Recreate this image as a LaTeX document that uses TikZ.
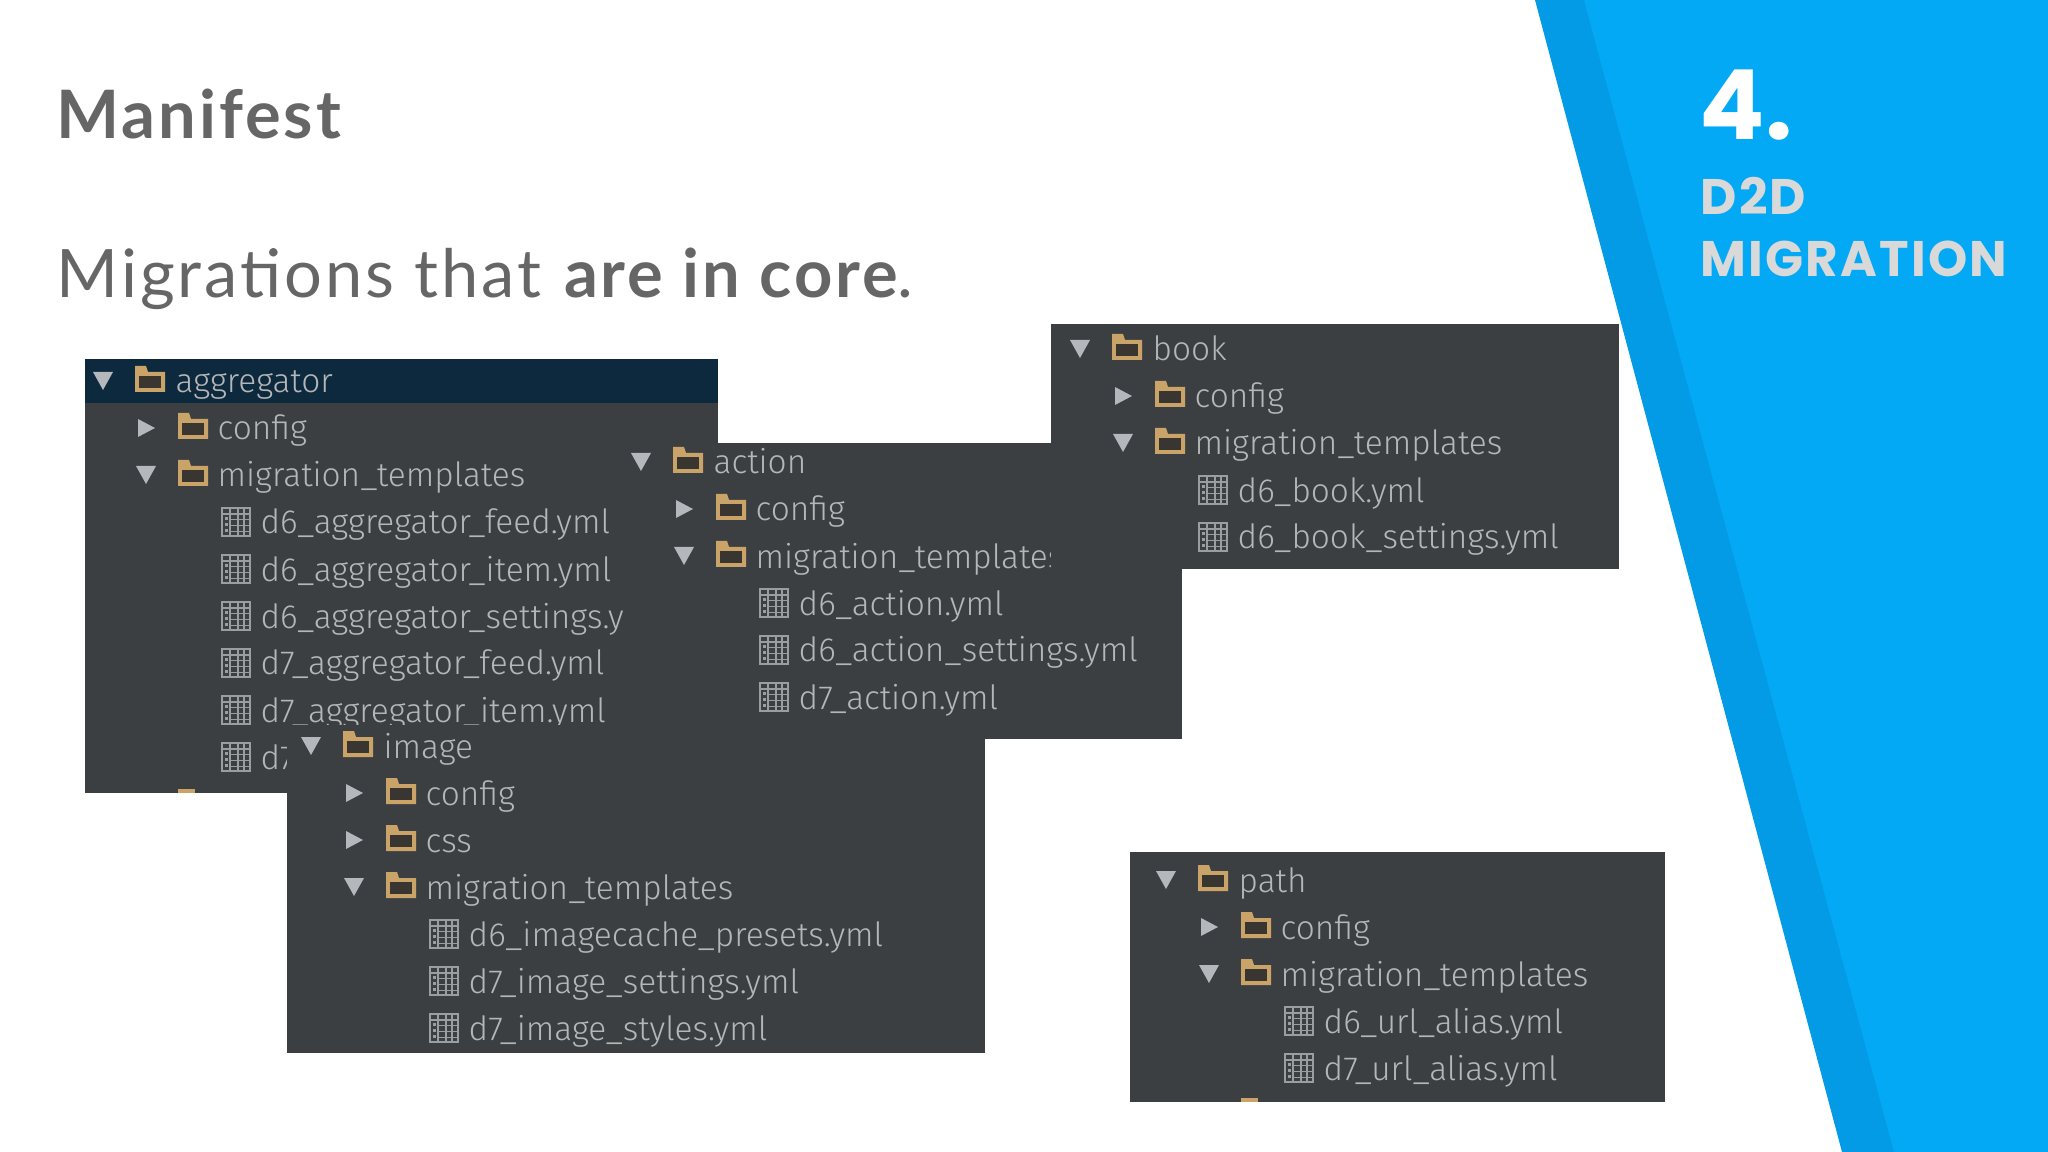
\documentclass[tikz,border=0pt]{standalone}
\usepackage{fontspec}
\setmainfont{Lato}[LetterSpace=4.4]
\newfontfamily\treefont{Fira Sans Light}
\newfontfamily\sidefont{Poppins}
\newfontfamily\sidewide{Poppins}[LetterSpace=4.4]
\usetikzlibrary{calc}

\definecolor{panelgrey}{HTML}{3C3F41}
\definecolor{headblue}{HTML}{0D293E}
\definecolor{treetext}{HTML}{B4B6B8}
\definecolor{foldergold}{HTML}{C9A367}
\definecolor{folderdark}{HTML}{393530}
\definecolor{arrowgrey}{HTML}{B4B7BC}
\definecolor{filegrey}{HTML}{999EA0}
\definecolor{bluelight}{HTML}{03A9F4}
\definecolor{bluedark}{HTML}{039BE5}
\definecolor{sidegrey}{HTML}{D9D9D9}
\definecolor{titlegrey}{HTML}{666666}

\tikzset{
  panel/.style={fill=panelgrey},
  treelabel/.style={anchor=base west,inner sep=0pt,text=treetext,
    font=\treefont\fontsize{9.5}{11}\selectfont},
  folder/.pic={
    \fill[foldergold] (-15,-15) -- (-15,11) -- (15,11) -- (15,-9) -- (-2,-9) -- (-4,-15) -- cycle;
    \fill[folderdark] (-11,-5) rectangle (11,7);
  },
  arrowdown/.pic={\fill[arrowgrey] (-10,-9) -- (10,-9) -- (0,9) -- cycle;},
  arrowright/.pic={\fill[arrowgrey] (-8,-9) -- (9,0) -- (-8,9) -- cycle;},
  gridfile/.pic={
    \draw[filegrey,line width=.35pt] (-14,-14) rectangle (14,14);
    \foreach \gx in {-6,2,8} \draw[filegrey,line width=.3pt] (\gx,-14) -- (\gx,14);
    \draw[filegrey,line width=.3pt] (-14,-8) -- (14,-8);
    \foreach \gy in {-3,3,9} {
      \draw[filegrey,line width=.25pt] (-6,\gy) -- (14,\gy);
      \fill[filegrey] (-11.5,\gy-2) rectangle (-8,\gy+1);
    }
  },
  rootrow/.pic={
    \pic at (18,0) {arrowdown};
    \pic at (65,0) {folder};
    \node[treelabel] (label) at (90,12) {#1};
  },
  closedrow/.pic={
    \pic at (61,0) {arrowright};
    \pic at (108,0) {folder};
    \node[treelabel] (label) at (132,12) {#1};
  },
  openrow/.pic={
    \pic at (61,0) {arrowdown};
    \pic at (108,0) {folder};
    \node[treelabel] (label) at (132,12) {#1};
  },
  filerow/.pic={
    \pic at (151,0) {gridfile};
    \node[treelabel] (label) at (175,12) {#1};
  }
}

\begin{document}
\begin{tikzpicture}[x=0.01cm,y=-0.01cm]
  \useasboundingbox (0,0) rectangle (2048,1152);

  % blue side
  \fill[bluedark] (1535,0) -- (2048,0) -- (2048,1152) -- (1842,1152) -- cycle;
  \fill[bluelight] (1584,0) -- (2048,0) -- (2048,1152) -- (1894,1152) -- cycle;
  \node[anchor=base west,inner sep=0pt,text=white,font=\sidefont\bfseries\fontsize{27.5}{30}\selectfont] (sectionnum) at (1699,140) {4.};
  \node[anchor=base west,inner sep=0pt,text=sidegrey,font=\sidewide\bfseries\fontsize{14.2}{15}\selectfont] (sectionone) at (1700,215) {D2D};
  \node[anchor=base west,inner sep=0pt,text=sidegrey,font=\sidewide\bfseries\fontsize{14.2}{15}\selectfont] (sectiontwo) at (1700,277) {MIGRATION};

  % titles
  \node[anchor=base west,inner sep=0pt,text=titlegrey,font=\bfseries\fontsize{19}{20}\selectfont] (title) at (56,139) {Manifest};
  \node[anchor=base west,inner sep=0pt,text=titlegrey,font=\fontsize{19}{20}\selectfont] (subtitle) at (56,298) {Migrations that \textbf{are in core}.};

  % aggregator
  \fill[panel] (85,359) rectangle (718,793);
  \fill[headblue] (85,359) rectangle (718,403);
  \pic (agg) at (85,381) {rootrow={aggregator}};
  \pic (aggcfg) at (85,428) {closedrow={config}};
  \pic (aggmig) at (85,475) {openrow={migration\_templates}};
  \foreach \rowy/\rowtext in {522/d6\_aggregator\_feed.yml,569/d6\_aggregator\_item.yml,
      616/d6\_aggregator\_settings.yml,663/d7\_aggregator\_feed.yml,
      710/d7\_aggregator\_item.yml,757/d7\_aggregator\_settings.yml}
    \pic (aggfile\rowy) at (85,\rowy) {filerow={\rowtext}};
  \fill[foldergold] (178,789) rectangle (195,793);

  % action
  \fill[panel] (624,443) rectangle (1182,739);
  \pic (act) at (623,462) {rootrow={action}};
  \pic (actcfg) at (623,509) {closedrow={config}};
  \pic (actmig) at (623,556) {openrow={migration\_templates}};
  \foreach \rowy/\rowtext in {603/d6\_action.yml,650/d6\_action\_settings.yml,697/d7\_action.yml}
    \pic (actfile\rowy) at (623,\rowy) {filerow={\rowtext}};

  % image
  \fill[panel] (287,725) rectangle (985,1053);
  \pic (img) at (293,746) {rootrow={image}};
  \pic (imgcfg) at (293,793) {closedrow={config}};
  \pic (imgcss) at (293,840) {closedrow={css}};
  \pic (imgmig) at (293,887) {openrow={migration\_templates}};
  \foreach \rowy/\rowtext in {934/d6\_imagecache\_presets.yml,981/d7\_image\_settings.yml,1028/d7\_image\_styles.yml}
    \pic (imgfile\rowy) at (293,\rowy) {filerow={\rowtext}};

  % book
  \fill[panel] (1051,324) rectangle (1619,569);
  \pic (bok) at (1062,349) {rootrow={book}};
  \pic (bokcfg) at (1062,396) {closedrow={config}};
  \pic (bokmig) at (1062,443) {openrow={migration\_templates}};
  \foreach \rowy/\rowtext in {490/d6\_book.yml,537/d6\_book\_settings.yml}
    \pic (bokfile\rowy) at (1062,\rowy) {filerow={\rowtext}};

  % path
  \fill[panel] (1130,852) rectangle (1665,1102);
  \pic (pth) at (1148,880) {rootrow={path}};
  \pic (pthcfg) at (1148,927) {closedrow={config}};
  \pic (pthmig) at (1148,974) {openrow={migration\_templates}};
  \foreach \rowy/\rowtext in {1021/d6\_url\_alias.yml,1068/d7\_url\_alias.yml}
    \pic (pthfile\rowy) at (1148,\rowy) {filerow={\rowtext}};
  \fill[foldergold] (1241,1098) rectangle (1258,1102);
\end{tikzpicture}
\end{document}
